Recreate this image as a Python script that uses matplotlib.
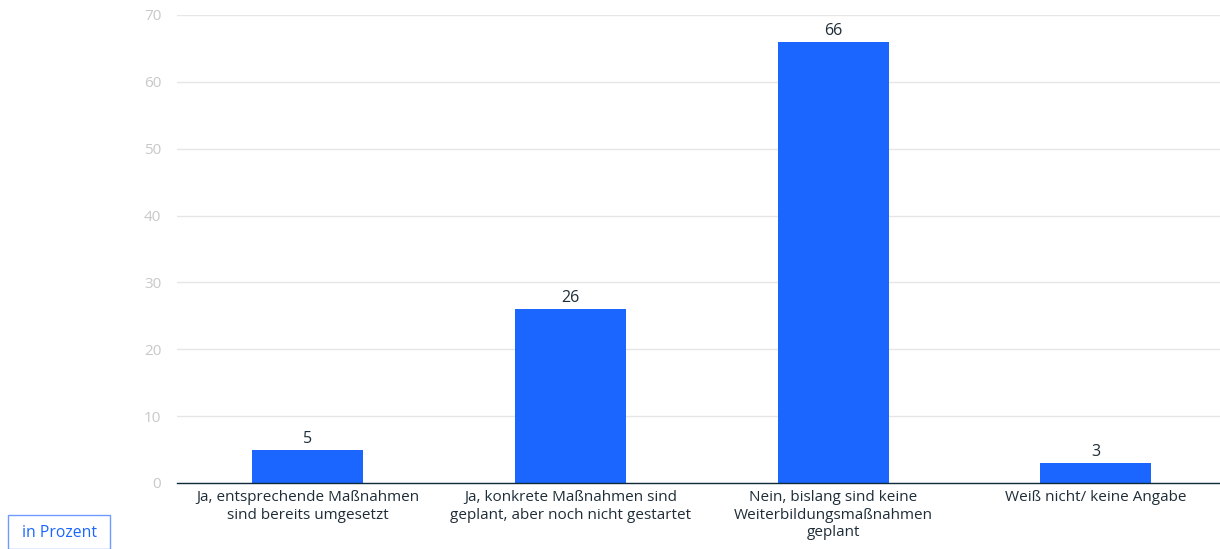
import matplotlib
matplotlib.use("Agg")
import matplotlib.pyplot as plt
from matplotlib.patches import FancyBboxPatch

categories = [
    "Ja, entsprechende Maßnahmen\nsind bereits umgesetzt",
    "Ja, konkrete Maßnahmen sind\ngeplant, aber noch nicht gestartet",
    "Nein, bislang sind keine\nWeiterbildungsmaßnahmen\ngeplant",
    "Weiß nicht/ keine Angabe",
]
values = [5, 26, 66, 3]
yticks = [0, 10, 20, 30, 40, 50, 60, 70]

plt.rcParams['font.family'] = ['Open Sans', 'DejaVu Sans']

fig = plt.figure(figsize=(12.2, 5.49), dpi=100)
left = 176.5 / 1220
right = 1227 / 1220
ax = fig.add_axes([left, 1 - 483/549, right - left, (483 - 15)/549])

x = list(range(len(categories)))
bars = ax.bar(x, values, width=0.423, color="#1a66ff", zorder=3)
ax.set_xlim(-0.5, len(categories) - 0.5)
ax.set_ylim(0, 70)
ax.set_yticks(yticks)
ax.set_yticklabels([str(t) for t in yticks], color="#c8c8c8", fontsize=11)
ax.set_xticks(x)
ax.set_xticklabels(categories, fontsize=11, color="#1e2d38", linespacing=1.25)
ax.tick_params(axis='both', length=0)
ax.tick_params(axis='y', pad=11)
ax.tick_params(axis='x', pad=5)
ax.grid(axis='y', color="#e6e6e6", linewidth=1, zorder=0)
for s in ['top', 'right', 'left']:
    ax.spines[s].set_visible(False)
ax.spines['bottom'].set_color("#0f2b3a")
ax.spines['bottom'].set_linewidth(1)
ax.spines['bottom'].set_zorder(4)

for b, v in zip(bars, values):
    ax.text(b.get_x() + b.get_width()/2, v + 0.4, str(v), ha='center', va='bottom',
            fontsize=11.5, color="#1e2d38")

box = FancyBboxPatch((8/1220, 0/549), 102/1220, 34/549, boxstyle="square,pad=0",
                     transform=fig.transFigure, facecolor="white", edgecolor="#6f9bff",
                     linewidth=1)
fig.patches.append(box)
fig.text(59/1220, 1 - 533/549, "in Prozent", ha='center', va='center', fontsize=11.3,
         color="#1a66ff")

fig.savefig("out.png", dpi=100)
